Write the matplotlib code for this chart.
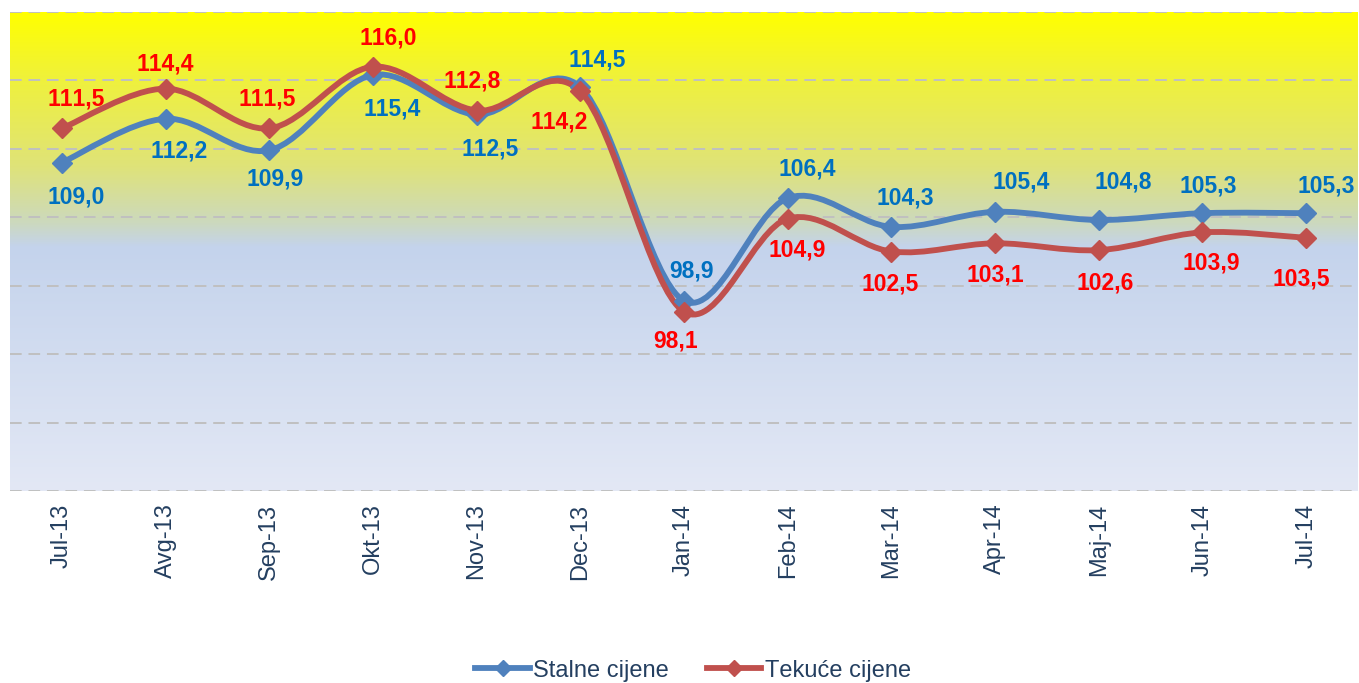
import numpy as np
import matplotlib
matplotlib.use("Agg")
import matplotlib.pyplot as plt
from matplotlib.path import Path
from matplotlib.patches import PathPatch
from matplotlib.lines import Line2D
from matplotlib.colors import LinearSegmentedColormap

plt.rcParams['text.kerning_factor'] = 6

months = ['Jul-13', 'Avg-13', 'Sep-13', 'Okt-13', 'Nov-13', 'Dec-13', 'Jan-14',
          'Feb-14', 'Mar-14', 'Apr-14', 'Maj-14', 'Jun-14', 'Jul-14']
stalne = [109.0, 112.2, 109.9, 115.4, 112.5, 114.5, 98.9,
          106.4, 104.3, 105.4, 104.8, 105.3, 105.3]
tekuce = [111.5, 114.4, 111.5, 116.0, 112.8, 114.2, 98.1,
          104.9, 102.5, 103.1, 102.6, 103.9, 103.5]

# label offsets in pixels (dx, dy), picked by eye
stalne_off = [(14, -34), (14, -32), (6, -29), (19, -34), (14, -34), (17, 27), (8, 30),
              (20, 29), (14, 29), (26, 30), (24, 38), (6, 27), (20, 27)]
tekuce_off = [(14, 29), (0, 25), (-2, 29), (15, 29), (-4, 30), (-21, -31), (-8, -29),
              (9, -31), (-1, -33), (0, -32), (6, -33), (9, -31), (-5, -41)]

BLUE = '#4F81BD'
RED = '#C0504D'
FONT = 'Liberation Sans'


def smooth_path(x, y):
    # excel style smoothed line as cubic bezier segments
    pts = np.column_stack([x, y]).astype(float)
    n = len(pts)
    verts = [pts[0]]
    codes = [Path.MOVETO]
    for i in range(n - 1):
        p0 = pts[i - 1] if i > 0 else pts[i]
        p1 = pts[i]
        p2 = pts[i + 1]
        p3 = pts[i + 2] if i + 2 < n else pts[i + 1]
        c1 = p1 + (p2 - p0) / 6.0
        c2 = p2 - (p3 - p1) / 6.0
        verts += [c1, c2, p2]
        codes += [Path.CURVE4] * 3
    return Path(verts, codes)


fig = plt.figure(figsize=(13.59, 6.83), dpi=100)
ax = fig.add_axes([10 / 1359, 1 - 491 / 683, 1348 / 1359, 479 / 683])

# background gradient
cmap = LinearSegmentedColormap.from_list('bg', [
    (0.0, '#FFFF00'),
    (0.15, '#EEF040'),
    (0.32, '#DFE378'),
    (0.44, '#CCD9BE'),
    (0.49, '#C4D3EC'),
    (1.0, '#E3E8F5'),
])
grad = np.linspace(0, 1, 256).reshape(-1, 1)
ax.imshow(grad, cmap=cmap, aspect='auto', extent=(0, 1, 0, 1),
          transform=ax.transAxes, zorder=0)

x = np.arange(len(months))
ax.set_xlim(-0.5, len(months) - 0.5)
ax.set_ylim(85, 120)

for yv in np.arange(85, 121, 5):
    ax.axhline(yv, color='#C0C0C0', lw=1.4, ls=(0, (6, 3.5)), zorder=1)

for vals, col, lcol, offs in [(stalne, BLUE, '#0070C0', stalne_off),
                              (tekuce, RED, '#FF0000', tekuce_off)]:
    ax.add_patch(PathPatch(smooth_path(x, vals), fill=False, edgecolor=col,
                           lw=4.2, capstyle='round', joinstyle='round', zorder=3))
    ax.plot(x, vals, ls='none', marker='D', ms=10, color=col, zorder=4)
    for xi, v, (dx, dy) in zip(x, vals, offs):
        ax.annotate(f'{v:.1f}'.replace('.', ','), (xi, v), xytext=(dx, dy),
                    textcoords='offset pixels', ha='center', va='center',
                    fontsize=16.5, fontweight='bold', color=lcol,
                    family=FONT, zorder=5)

ax.set_xticks(x)
ax.set_xticklabels(months, rotation=90, fontsize=17, color='#243F60', family=FONT)
ax.tick_params(axis='x', length=0, pad=9)
ax.set_yticks([])
for s in ax.spines.values():
    s.set_visible(False)

handles = [Line2D([], [], color=BLUE, lw=4.2, marker='D', ms=8),
           Line2D([], [], color=RED, lw=4.2, marker='D', ms=8)]
fig.legend(handles, ['Stalne cijene', 'Tekuće cijene'], loc='center',
           bbox_to_anchor=(0.51, 0.018), ncol=2, frameon=False,
           handlelength=2.3, handletextpad=0.15, columnspacing=1.6,
           prop={'family': FONT, 'size': 17}, labelcolor='#243F60')

fig.savefig('out.png', dpi=100)
